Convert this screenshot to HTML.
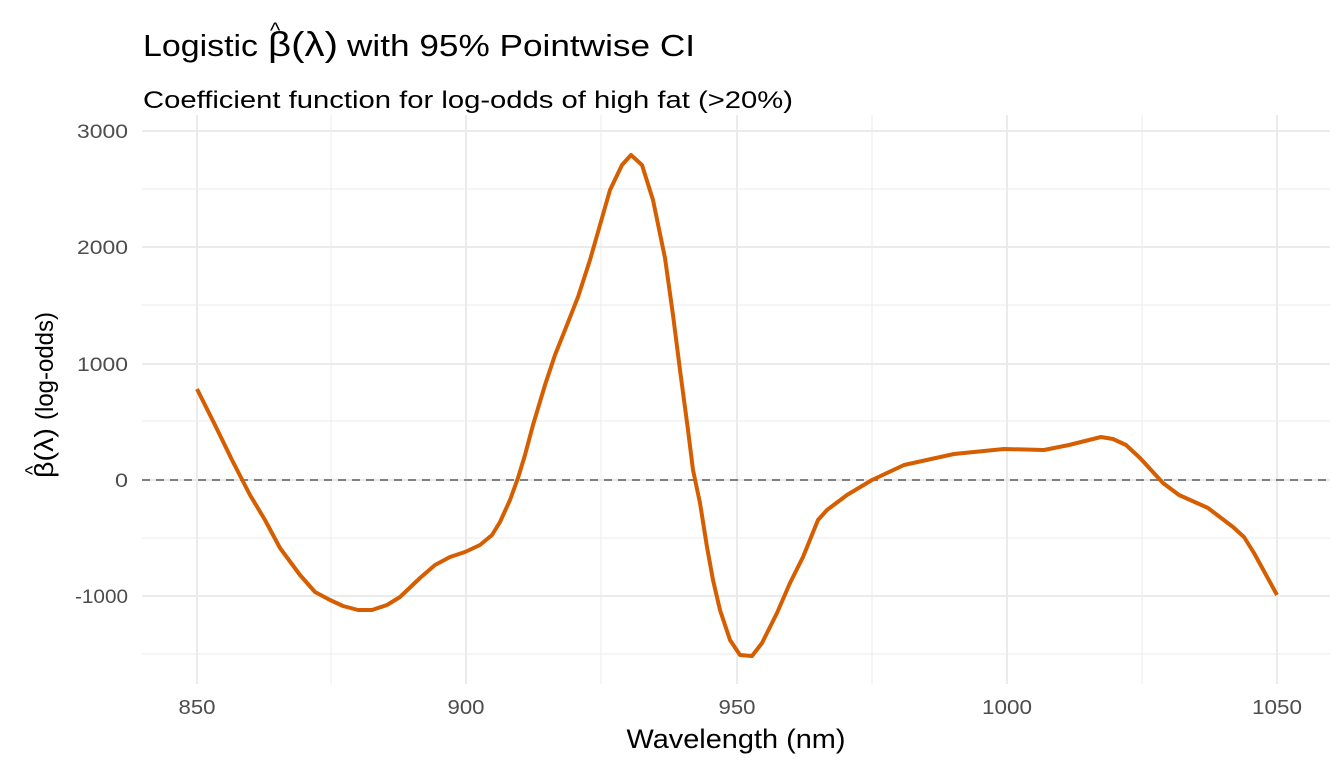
<!DOCTYPE html>
<html><head><meta charset="utf-8"><style>
body{margin:0;background:#fff;}
svg text{font-family:"Liberation Sans",sans-serif;}
</style></head><body>
<svg width="1344" height="768" xmlns="http://www.w3.org/2000/svg">
<rect width="1344" height="768" fill="#fff"/>
<g stroke="#ebebeb" stroke-width="1">
<line x1="142" x2="1330" y1="189" y2="189"/>
<line x1="142" x2="1330" y1="305" y2="305"/>
<line x1="142" x2="1330" y1="421" y2="421"/>
<line x1="142" x2="1330" y1="538" y2="538"/>
<line x1="142" x2="1330" y1="654" y2="654"/>
<line x1="331" x2="331" y1="115" y2="684"/>
<line x1="601" x2="601" y1="115" y2="684"/>
<line x1="872" x2="872" y1="115" y2="684"/>
<line x1="1142" x2="1142" y1="115" y2="684"/>
</g>
<g stroke="#ebebeb" stroke-width="2">
<line x1="142" x2="1330" y1="131" y2="131"/>
<line x1="142" x2="1330" y1="247" y2="247"/>
<line x1="142" x2="1330" y1="364" y2="364"/>
<line x1="142" x2="1330" y1="480" y2="480"/>
<line x1="142" x2="1330" y1="596" y2="596"/>
<line x1="197" x2="197" y1="115" y2="684"/>
<line x1="466" x2="466" y1="115" y2="684"/>
<line x1="737" x2="737" y1="115" y2="684"/>
<line x1="1007" x2="1007" y1="115" y2="684"/>
<line x1="1277" x2="1277" y1="115" y2="684"/>
</g>
<line x1="142" x2="1330" y1="480" y2="480" stroke="#808080" stroke-width="2" stroke-dasharray="8,6"/>
<polyline fill="none" stroke="#d55e00" stroke-width="4" stroke-linejoin="round" points="197,389 215,425 232,460 250,495 265,520 280,548 300,575 315,592 330,600 343,606 358,610 372,610 387,605 400,597 420,578 435,565 450,557 465,552 480,545 492,535 500,522 510,500 518,478 525,455 533,425 545,385 555,355 565,330 578,297 590,260 600,225 610,190 622,165 631,155 642,165 653,200 665,258 673,315 680,370 688,430 693,470 700,503 707,547 713,580 720,610 730,640 740,655 752,656 762,643 777,613 790,583 803,557 818,520 827,510 847,495 872,480 904,465 954,454 1004,449 1044,450 1069,445 1101,437 1113,439 1126,445 1140,458 1163,483 1179,495 1208,508 1233,527 1244,537 1254,553 1265,573 1277,595"/>
<g fill="#4d4d4d" font-size="19" text-anchor="end" lengthAdjust="spacingAndGlyphs">
<text x="128" y="138" textLength="51" lengthAdjust="spacingAndGlyphs">3000</text>
<text x="128" y="254" textLength="51" lengthAdjust="spacingAndGlyphs">2000</text>
<text x="128" y="371" textLength="51" lengthAdjust="spacingAndGlyphs">1000</text>
<text x="128" y="487" textLength="13" lengthAdjust="spacingAndGlyphs">0</text>
<text x="128" y="603" textLength="53" lengthAdjust="spacingAndGlyphs">-1000</text>
</g>
<g fill="#4d4d4d" font-size="20" text-anchor="middle">
<text x="197" y="714" textLength="37" lengthAdjust="spacingAndGlyphs">850</text>
<text x="466" y="714" textLength="37" lengthAdjust="spacingAndGlyphs">900</text>
<text x="737" y="714" textLength="37" lengthAdjust="spacingAndGlyphs">950</text>
<text x="1007" y="714" textLength="50" lengthAdjust="spacingAndGlyphs">1000</text>
<text x="1277" y="714" textLength="50" lengthAdjust="spacingAndGlyphs">1050</text>
</g>
<text x="736" y="748" font-size="27" text-anchor="middle" fill="#000" textLength="219" lengthAdjust="spacingAndGlyphs">Wavelength (nm)</text>
<g transform="translate(53,478) rotate(-90)" fill="#000">
<text x="0" y="0" font-size="26" font-family="Liberation Serif,serif" textLength="50" lengthAdjust="spacingAndGlyphs">β(λ)</text>
<text x="58" y="0" font-size="25" textLength="108" lengthAdjust="spacingAndGlyphs">(log-odds)</text>
<text x="3" y="-14" font-size="20">^</text>
</g>
<text x="143" y="56" font-size="31" fill="#000" textLength="115" lengthAdjust="spacingAndGlyphs">Logistic</text>
<text x="268" y="56" font-size="34" font-family="Liberation Serif,serif" fill="#000" textLength="70" lengthAdjust="spacingAndGlyphs">β(λ)</text>
<text x="270" y="38" font-size="22" fill="#000">^</text>
<text x="347" y="56" font-size="31" fill="#000" textLength="348" lengthAdjust="spacingAndGlyphs">with 95% Pointwise CI</text>
<text x="143" y="108" font-size="24" fill="#000" textLength="650" lengthAdjust="spacingAndGlyphs">Coefficient function for log-odds of high fat (&gt;20%)</text>
</svg>
</body></html>
